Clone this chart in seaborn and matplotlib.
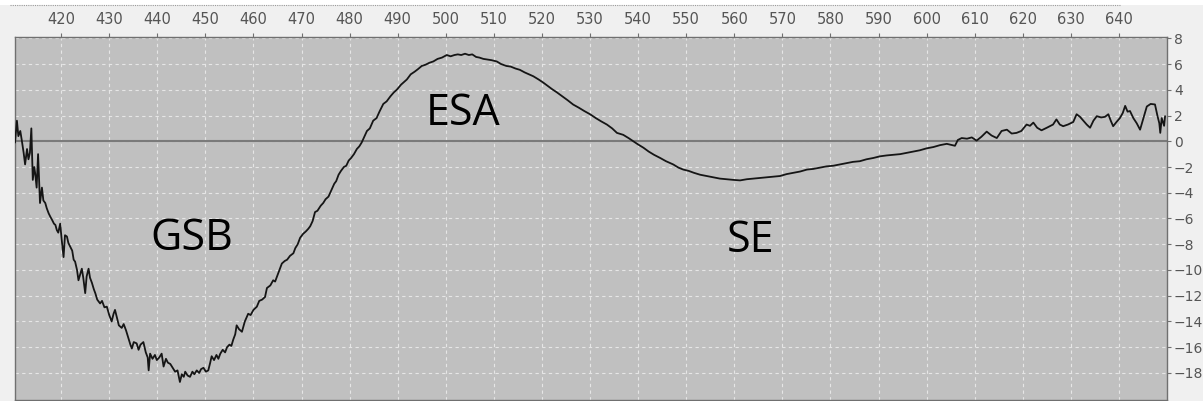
import matplotlib
matplotlib.use("Agg")
import matplotlib.pyplot as plt
import numpy as np
import pandas as pd
import seaborn as sns
from matplotlib.lines import Line2D

# transient absorption spectrum
wavelength = [
    410.4, 410.8, 411.1, 411.5, 411.8, 412.2, 412.5, 412.9, 413.2, 413.5,
    413.8, 414.1, 414.4, 414.6, 414.9, 415.2, 415.6, 416.0, 416.3, 416.7,
    417.0, 417.4, 417.8, 418.1, 418.5, 418.8, 419.1, 419.4, 419.8, 420.1,
    420.5, 420.8, 421.2, 421.5, 421.9, 422.3, 422.6, 422.9, 423.3, 423.6,
    424.0, 424.3, 424.6, 425.0, 425.3, 425.7, 426.0, 426.4, 426.8, 427.1,
    427.5, 428.1, 428.5, 429.0, 429.5, 430.0, 430.5, 430.9, 431.2, 431.6,
    432.0, 432.6, 433.0, 433.5, 434.0, 434.4, 434.7, 435.1, 435.7, 436.1,
    436.5, 437.1, 437.6, 438.0, 438.2, 438.5, 439.0, 439.5, 439.9, 440.4,
    440.9, 441.3, 441.8, 442.2, 442.7, 443.2, 443.7, 444.2, 444.7, 445.1,
    445.5, 445.8, 446.3, 446.8, 447.3, 447.7, 448.2, 448.7, 449.1, 449.6,
    450.1, 450.6, 451.0, 451.3, 451.8, 452.3, 452.7, 453.1, 453.6, 454.1,
    454.5, 455.0, 455.4, 455.8, 456.2, 456.5, 457.0, 457.6, 458.2, 458.9,
    459.4, 460.0, 460.7, 461.2, 461.8, 462.4, 462.8, 463.5, 464.1, 464.5,
    464.9, 465.5, 465.9, 466.5, 467.0, 467.6, 468.3, 468.7, 469.2, 469.7,
    470.3, 470.9, 471.4, 471.8, 472.3, 472.8, 473.3, 474.0, 474.5, 475.0,
    475.6, 476.2, 476.8, 477.2, 477.7, 478.2, 478.8, 479.3, 479.8, 480.3,
    480.9, 481.5, 482.0, 482.5, 483.0, 483.6, 484.2, 484.9, 485.6, 486.2,
    487.0, 487.7, 488.5, 489.2, 489.8, 490.7, 491.3, 491.9, 492.7, 493.5,
    494.2, 495.0, 495.8, 496.6, 497.4, 498.3, 499.2, 500.2, 501.0, 501.8,
    502.5, 503.2, 504.0, 504.8, 505.5, 506.3, 507.0, 507.8, 508.6, 509.5,
    510.6, 511.5, 512.6, 513.5, 514.5, 515.4, 516.4, 517.3, 518.2, 519.3,
    520.3, 521.2, 522.1, 523.1, 524.2, 525.3, 526.5, 527.7, 528.8, 530.0,
    531.2, 532.3, 533.5, 534.6, 535.6, 536.9, 538.0, 539.0, 540.0, 541.1,
    542.2, 543.3, 544.6, 545.8, 547.3, 548.4, 549.4, 550.5, 551.6, 552.9,
    554.3, 555.6, 557.0, 558.4, 559.8, 561.2, 562.6, 564.0, 565.3, 566.7,
    568.1, 569.5, 570.9, 572.3, 573.7, 575.1, 576.4, 577.8, 579.2, 580.6,
    582.0, 583.4, 584.7, 586.1, 587.5, 588.9, 590.3, 591.7, 593.1, 594.5,
    595.9, 597.2, 598.6, 600.0, 601.4, 602.8, 604.2, 605.9, 606.5, 607.3,
    608.4, 609.4, 610.4, 611.4, 612.5, 613.5, 614.6, 615.6, 616.7, 617.7,
    618.7, 619.7, 620.8, 621.5, 622.2, 623.0, 623.9, 625.0, 626.3, 627.0,
    627.7, 628.4, 629.4, 630.5, 631.2, 631.9, 632.6, 633.3, 634.0, 634.7,
    635.4, 636.3, 637.1, 637.8, 638.3, 638.8, 639.5, 640.2, 640.8, 641.3,
    641.8, 642.3, 643.0, 643.7, 644.4, 645.1, 645.8, 646.6, 647.5, 648.0,
    648.4, 648.6, 648.9, 649.4, 649.6,
]
delta_a = [
    -0.1, 1.6, 0.4, 0.8, 0.1, -0.9, -1.8, -0.6, -1.4, -0.9,
    1.0, -3.0, -2.0, -2.5, -3.6, -1.0, -4.8, -3.6, -4.6, -4.8,
    -5.2, -5.6, -5.9, -6.1, -6.4, -6.5, -6.9, -7.1, -6.4, -7.6,
    -9.0, -7.3, -7.4, -7.9, -8.2, -8.5, -9.2, -9.35, -10.0, -10.8,
    -10.3, -9.9, -10.6, -11.8, -10.5, -9.9, -10.6, -11.0, -11.5, -11.8,
    -12.3, -12.6, -12.4, -12.9, -12.85, -13.5, -14.0, -13.4, -13.1, -13.7,
    -14.3, -14.5, -14.2, -14.7, -15.3, -15.8, -16.1, -15.6, -15.7, -16.2,
    -15.8, -15.6, -16.4, -16.8, -17.8, -16.5, -16.9, -16.6, -17.0, -16.8,
    -16.5, -17.5, -16.9, -17.2, -17.3, -17.6, -17.9, -17.8, -18.7, -18.1,
    -18.3, -17.9, -18.2, -18.3, -17.9, -18.1, -17.8, -18.0, -17.7, -17.6,
    -17.9, -17.8, -17.2, -16.7, -17.0, -16.6, -16.9, -16.5, -16.2, -16.4,
    -16.0, -15.8, -15.9, -15.4, -15.0, -14.3, -14.6, -14.8, -14.0, -13.4,
    -13.5, -13.1, -12.85, -12.4, -12.3, -12.1, -11.4, -11.2, -10.8, -10.9,
    -10.5, -9.9, -9.5, -9.3, -9.2, -8.9, -8.7, -8.3, -8.0, -7.5,
    -7.2, -7.0, -6.8, -6.6, -6.2, -5.5, -5.4, -5.0, -4.8, -4.5,
    -4.3, -3.8, -3.3, -3.1, -2.6, -2.3, -2.0, -1.9, -1.5, -1.3,
    -1.0, -0.6, -0.4, -0.1, 0.3, 0.8, 1.0, 1.6, 1.8, 2.3,
    2.9, 3.1, 3.5, 3.8, 4.0, 4.4, 4.6, 4.8, 5.2, 5.4,
    5.6, 5.85, 5.95, 6.1, 6.2, 6.4, 6.5, 6.7, 6.6, 6.7,
    6.75, 6.7, 6.8, 6.7, 6.75, 6.55, 6.5, 6.4, 6.35, 6.3,
    6.2, 6.0, 5.85, 5.8, 5.65, 5.55, 5.35, 5.2, 5.05, 4.8,
    4.55, 4.3, 4.05, 3.8, 3.5, 3.2, 2.85, 2.6, 2.35, 2.1,
    1.8, 1.55, 1.3, 1.0, 0.65, 0.5, 0.25, 0.0, -0.25, -0.5,
    -0.8, -1.05, -1.3, -1.55, -1.8, -2.05, -2.2, -2.3, -2.45, -2.6,
    -2.7, -2.8, -2.9, -2.95, -3.0, -3.04, -2.95, -2.9, -2.85, -2.8,
    -2.75, -2.7, -2.55, -2.45, -2.35, -2.2, -2.15, -2.05, -1.95, -1.9,
    -1.8, -1.7, -1.6, -1.55, -1.4, -1.3, -1.17, -1.1, -1.05, -1.0,
    -0.9, -0.8, -0.7, -0.55, -0.45, -0.3, -0.2, -0.35, 0.1, 0.25,
    0.2, 0.3, 0.05, 0.35, 0.75, 0.45, 0.25, 0.8, 0.9, 0.6,
    0.65, 0.8, 1.3, 1.2, 1.45, 1.05, 0.85, 1.05, 1.3, 1.7,
    1.3, 1.17, 1.3, 1.5, 2.1, 1.9, 1.6, 1.3, 1.05, 1.6,
    1.95, 1.85, 1.9, 2.1, 1.6, 1.17, 1.5, 1.8, 2.2, 2.75,
    2.3, 2.35, 1.8, 1.4, 0.9, 1.8, 2.7, 2.9, 2.86, 2.0,
    1.4, 0.65, 1.8, 1.2, 1.95,
]

x_ticks = list(range(420, 650, 10))
y_ticks = list(range(-18, 10, 2))

band_labels = ["GSB", "ESA", "SE"]
band_x = [447.2, 503.6, 563.3]
band_y = [-7.6, 2.1, -7.7]

df = pd.DataFrame({"wavelength": wavelength, "dA": delta_a})

sns.set_style("darkgrid", {
    "axes.facecolor": "#c0c0c0",
    "figure.facecolor": "#f0f0f0",
    "grid.color": "#e6e6e6",
    "grid.linestyle": (0, (3, 3)),
    "axes.edgecolor": "#707070",
})

fig = plt.figure(figsize=(12.03, 4.01), dpi=100)
ax = fig.add_axes([15 / 1203, 1 / 401, 1152 / 1203, 363 / 401])

ax.axhline(0, color="#7a7a7a", lw=1.5, zorder=2)
sns.lineplot(data=df, x="wavelength", y="dA", ax=ax, color="#151515",
             lw=1.3, estimator=None, sort=False, zorder=3)

ax.set_xlim(410.4, 650.0)
ax.set_ylim(-20.1, 8.1)
ax.set_xticks(x_ticks)
ax.set_yticks(y_ticks)
ax.grid(True, lw=0.8)
ax.xaxis.tick_top()
ax.yaxis.tick_right()
ax.tick_params(axis="both", length=3, width=0.8, color="#707070",
               labelcolor="#555555", pad=2)
ax.tick_params(axis="x", pad=4, labelsize=10.5)
ax.tick_params(axis="y", labelsize=10)
ax.set_xlabel("")
ax.set_ylabel("")
for side in ["top", "bottom", "left", "right"]:
    ax.spines[side].set_visible(True)
    ax.spines[side].set_linewidth(1.0)

for lab, bx, by in zip(band_labels, band_x, band_y):
    ax.text(bx, by, lab, fontsize=31, family="Open Sans", color="black",
            ha="center", va="center", zorder=4)

# white strip with dotted rule across the top of the window
fig.patches.append(plt.Rectangle((0, 396 / 401), 1, 5 / 401, transform=fig.transFigure,
                                 facecolor="white", edgecolor="none"))
fig.lines.append(Line2D([10 / 1203, 1120 / 1203], [396 / 401, 396 / 401],
                        transform=fig.transFigure, color="#9a9a9a",
                        lw=0.8, linestyle=(0, (1, 1))))

fig.savefig("out.png", dpi=100)
